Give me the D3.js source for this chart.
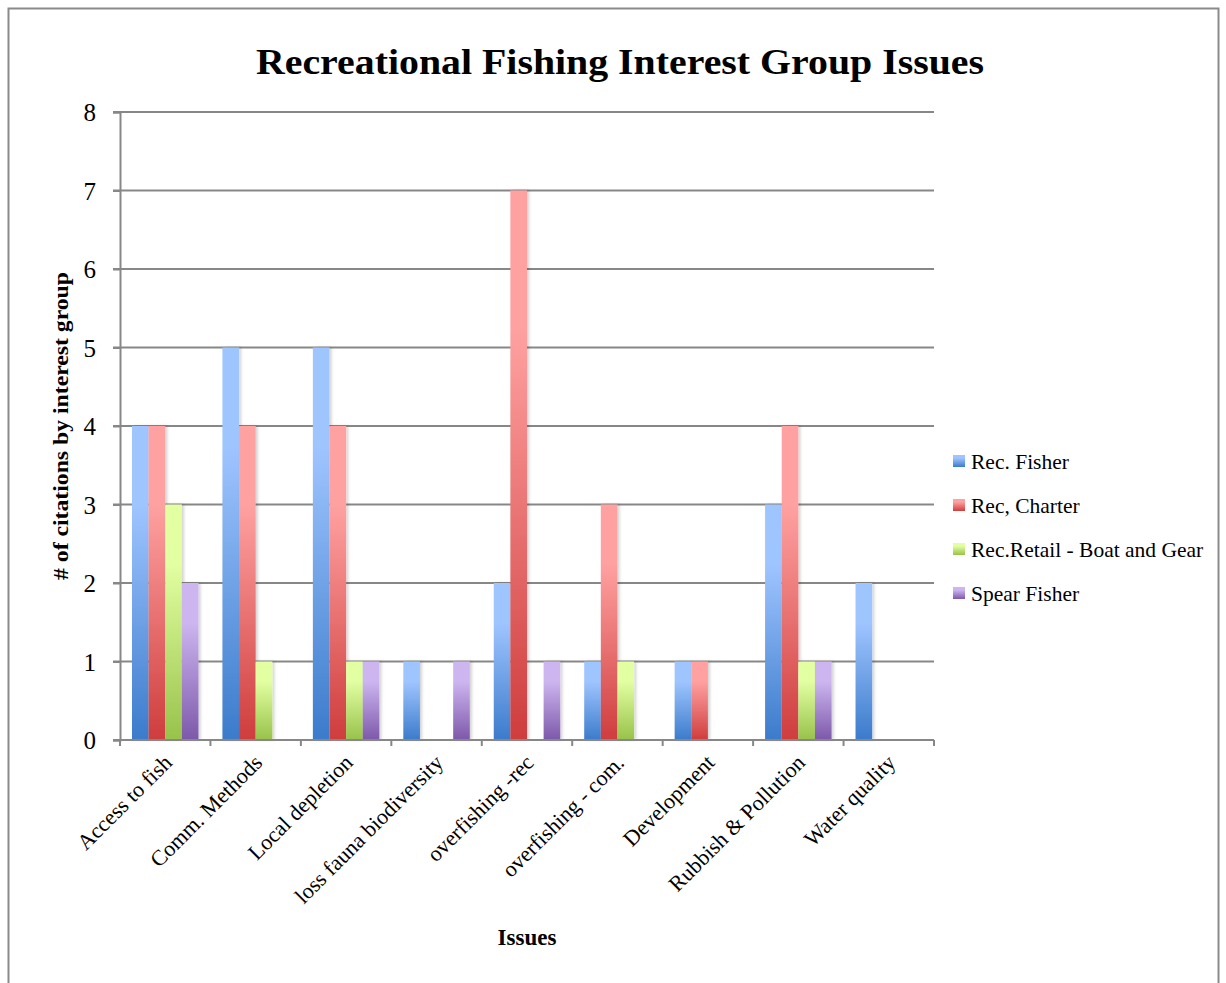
<!DOCTYPE html>
<html><head><meta charset="utf-8">
<script src="https://cdn.jsdelivr.net/npm/d3@7"></script>
<style>body{margin:0;background:#fff}</style>
</head><body>
<svg id="c" width="1226" height="983"></svg>
<script>
const categories = ["Access to fish","Comm. Methods","Local depletion","loss fauna biodiversity","overfishing -rec","overfishing - com.","Development","Rubbish & Pollution","Water quality"];
const seriesNames = ["Rec. Fisher","Rec, Charter","Rec.Retail  - Boat and Gear","Spear Fisher"];
const recFisher = [4,5,5,1,2,1,1,3,2];
const recCharter = [4,4,4,0,7,3,1,4,0];
const recRetail = [3,1,1,0,0,1,0,1,0];
const spearFisher = [2,0,1,1,1,0,0,1,0];
const yTicks = [0,1,2,3,4,5,6,7,8];
const seriesValues = [recFisher, recCharter, recRetail, spearFisher];
const colors = [["#9fc5ff","#3b7bcb"],["#ffa1a1","#cf3d3d"],["#e2ffa2","#98c24a"],["#cdb6f0","#7d58aa"]];

const svg = d3.select("#c");
const serif = "'Liberation Serif','DejaVu Serif',serif";
const defs = svg.append("defs");
colors.forEach((c,i)=>{
  const g = defs.append("linearGradient").attr("id","g"+i).attr("x1",0).attr("y1",0).attr("x2",0).attr("y2",1);
  g.append("stop").attr("offset","0%").attr("stop-color",c[0]);
  g.append("stop").attr("offset","25%").attr("stop-color",c[0]);
  g.append("stop").attr("offset","100%").attr("stop-color",c[1]);
});
const lg = defs.append("filter").attr("id","sh").attr("x","-20%").attr("y","-5%").attr("width","160%").attr("height","110%");
lg.append("feDropShadow").attr("dx",2).attr("dy",0).attr("stdDeviation",1.5).attr("flood-color","#000").attr("flood-opacity",0.18);

svg.append("rect").attr("x",8.5).attr("y",8.5).attr("width",1210).attr("height",1000).attr("fill","none").attr("stroke","#8a8a8a").attr("stroke-width",2);

const L=120,R=934,T=112,B=740;
const x = d3.scaleBand().domain(categories).range([L,R]).paddingInner(0.265).paddingOuter(0.1325);
const xs = d3.scaleBand().domain(d3.range(4)).range([0,x.bandwidth()]);
const y = d3.scaleLinear().domain([0,8]).range([B,T]);

// gridlines
svg.append("g").selectAll("line").data(yTicks.slice(1)).join("line")
  .attr("x1",L-7).attr("x2",R).attr("y1",d=>y(d)).attr("y2",d=>y(d))
  .attr("stroke","#878787").attr("stroke-width",2);

// bars
const grp = svg.append("g");
seriesValues.forEach((vals,si)=>{
  grp.append("g").selectAll("rect").data(vals.map((v,i)=>({v,c:categories[i]})).filter(d=>d.v>0)).join("rect")
    .attr("x",d=>x(d.c)+xs(si)).attr("width",xs.bandwidth())
    .attr("y",d=>y(d.v)).attr("height",d=>y(0)-y(d.v))
    .attr("fill","url(#g"+si+")").attr("filter","url(#sh)");
});

// y axis
const ya = svg.append("g").attr("transform",`translate(${L},0)`).call(d3.axisLeft(y).tickValues(yTicks).tickSize(7).tickPadding(17));
ya.select(".domain").attr("stroke","#878787").attr("stroke-width",2);
ya.selectAll(".tick line").attr("stroke","#878787").attr("stroke-width",2);
ya.selectAll("text").attr("font-family",serif).attr("font-size",25).attr("fill","#000").attr("dy","0.34em");

// x axis line & ticks at boundaries
const bounds = d3.range(10).map(i=>L+(R-L)*i/9);
svg.append("line").attr("x1",L-7).attr("x2",R).attr("y1",B).attr("y2",B).attr("stroke","#878787").attr("stroke-width",2);
svg.append("g").selectAll("line").data(bounds).join("line")
  .attr("x1",d=>d).attr("x2",d=>d).attr("y1",B).attr("y2",B+6).attr("stroke","#878787").attr("stroke-width",2);

// x labels
svg.append("g").selectAll("text").data(categories).join("text")
  .attr("transform",d=>`translate(${x(d)+x.bandwidth()/2+8},${B+24}) rotate(-45)`)
  .attr("text-anchor","end").attr("font-family",serif).attr("font-size",22).attr("fill","#000")
  .text(d=>d);

// title
svg.append("text").attr("x",620).attr("y",74).attr("text-anchor","middle")
  .attr("font-family",serif).attr("font-weight","bold").attr("font-size",35).attr("fill","#000")
  .attr("textLength",728).attr("lengthAdjust","spacingAndGlyphs")
  .text("Recreational Fishing Interest Group Issues");

// axis titles
svg.append("text").attr("transform","translate(68,426) rotate(-90)").attr("text-anchor","middle")
  .attr("font-family",serif).attr("font-weight","bold").attr("font-size",21).attr("fill","#000")
  .attr("textLength",308).attr("lengthAdjust","spacingAndGlyphs")
  .text("# of citations by interest group");
svg.append("text").attr("x",527).attr("y",945).attr("text-anchor","middle")
  .attr("font-family",serif).attr("font-weight","bold").attr("font-size",23).attr("fill","#000")
  .text("Issues");

// legend
const leg = svg.append("g").selectAll("g").data(seriesNames).join("g")
  .attr("transform",(d,i)=>`translate(953,${461+i*44})`);
leg.append("rect").attr("x",0).attr("y",-6).attr("width",12).attr("height",12).attr("fill",(d,i)=>"url(#g"+i+")");
leg.append("text").attr("x",18).attr("y",0).attr("dy","0.35em").attr("font-family",serif).attr("font-size",21.5).attr("fill","#000").text(d=>d);
</script>
</body></html>
